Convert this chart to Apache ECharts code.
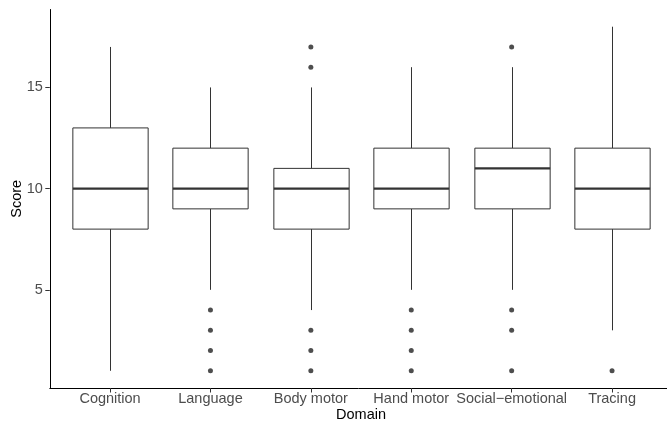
<!DOCTYPE html>
<html>
<head>
<meta charset="utf-8">
<script src="https://cdn.jsdelivr.net/npm/echarts@6/dist/echarts.min.js"></script>
<style>
  html, body { margin: 0; padding: 0; background: #fff; }
  #chart { width: 667px; height: 422px; }
</style>
</head>
<body>
<div id="chart"></div>
<script>
// ---- data ----
const categories = ['Cognition', 'Language', 'Body motor', 'Hand motor', 'Social\u2212emotional', 'Tracing'];
const whiskerLow  = [1, 5, 4, 5, 5, 3];
const quartile1   = [8, 9, 8, 9, 9, 8];
const medians     = [10, 10, 10, 10, 11, 10];
const quartile3   = [13, 12, 11, 12, 12, 12];
const whiskerHigh = [17, 15, 15, 16, 16, 18];
const outliers    = [[], [4, 3, 2, 1], [17, 16, 3, 2, 1], [4, 3, 2, 1], [17, 4, 3, 1], [1]];
const yTicks = [5, 10, 15];

// ---- build series data ----
const boxData = categories.map((c, i) => [i + 1, whiskerLow[i], quartile1[i], medians[i], quartile3[i], whiskerHigh[i]]);
const outlierData = [];
outliers.forEach((list, i) => list.forEach(v => outlierData.push([i + 1, v])));
const xPositions = categories.map((c, i) => i + 1);

const FONT = '"Liberation Sans", Arial, Helvetica, sans-serif';
const LINE = '#333333';
const BOX_WIDTH = 0.75;

function renderBox(params, api) {
  const x = api.value(0);
  const low = api.coord([x, api.value(1)]);
  const q1 = api.coord([x, api.value(2)]);
  const med = api.coord([x, api.value(3)]);
  const q3 = api.coord([x, api.value(4)]);
  const high = api.coord([x, api.value(5)]);
  const half = api.size([BOX_WIDTH, 0])[0] / 2;
  const cx = Math.round(low[0]) + 0.5;
  const thin = { stroke: LINE, lineWidth: 1, fill: null };
  return {
    type: 'group',
    children: [
      { type: 'line', shape: { x1: cx, y1: low[1], x2: cx, y2: q1[1] }, style: thin },
      { type: 'line', shape: { x1: cx, y1: q3[1], x2: cx, y2: high[1] }, style: thin },
      { type: 'rect', shape: { x: cx - half, y: q3[1], width: half * 2, height: q1[1] - q3[1] },
        style: { stroke: LINE, lineWidth: 1, fill: '#ffffff' } },
      { type: 'line', shape: { x1: cx - half, y1: med[1], x2: cx + half, y2: med[1] },
        style: { stroke: LINE, lineWidth: 2.2 } }
    ]
  };
}

const chart = echarts.init(document.getElementById('chart'), null, { renderer: 'canvas' });
chart.setOption({
  backgroundColor: '#ffffff',
  animation: false,
  textStyle: { fontFamily: FONT },
  grid: { left: 49.8, top: 9.5, width: 622.5, height: 378.5, containLabel: false, outerBoundsMode: 'none' },
  xAxis: {
    type: 'value',
    min: 0.4,
    max: 6.6,
    name: 'Domain',
    nameLocation: 'middle',
    nameGap: 19,
    nameMoveOverlap: false,
    nameTextStyle: { color: '#000000', fontSize: 14.5, fontFamily: FONT },
    axisLine: { show: true, onZero: false, lineStyle: { color: '#000000', width: 1 } },
    axisTick: { show: true, length: 4.5, customValues: xPositions, lineStyle: { color: LINE, width: 1 } },
    axisLabel: {
      show: true,
      customValues: xPositions,
      margin: 3,
      color: '#4D4D4D',
      fontSize: 14.5,
      fontFamily: FONT,
      formatter: v => categories[Math.round(v) - 1] || ''
    },
    splitLine: { show: false }
  },
  yAxis: {
    type: 'value',
    min: 0.15,
    max: 18.85,
    name: 'Score',
    nameLocation: 'middle',
    nameGap: 25,
    nameRotate: 90,
    nameMoveOverlap: false,
    nameTextStyle: { color: '#000000', fontSize: 14.5, fontFamily: FONT },
    axisLine: { show: true, onZero: false, lineStyle: { color: '#000000', width: 1 } },
    axisTick: { show: true, length: 4.5, customValues: yTicks, lineStyle: { color: LINE, width: 1 } },
    axisLabel: {
      show: true,
      customValues: yTicks,
      margin: 7,
      color: '#4D4D4D',
      fontSize: 14.5,
      fontFamily: FONT
    },
    splitLine: { show: false }
  },
  series: [
    {
      type: 'custom',
      name: 'box',
      renderItem: renderBox,
      encode: { x: 0, y: [1, 2, 3, 4, 5] },
      data: boxData,
      silent: true,
      clip: false
    },
    {
      type: 'scatter',
      name: 'outliers',
      data: outlierData,
      symbol: 'circle',
      symbolSize: 5,
      itemStyle: { color: '#222222' },
      silent: true
    }
  ]
});
</script>
</body>
</html>
